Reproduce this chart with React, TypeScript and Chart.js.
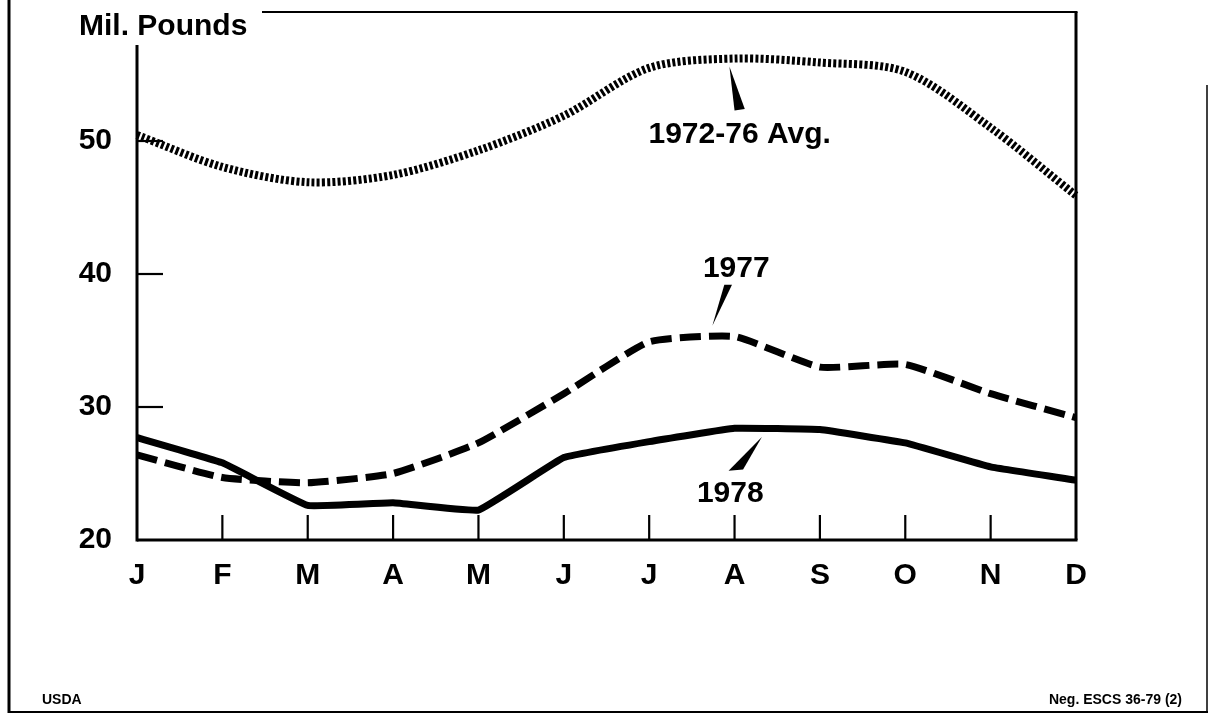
import React, { useEffect, useRef } from 'react';
import { Chart, registerables } from 'chart.js';

Chart.register(...registerables);

const months = ['J', 'F', 'M', 'A', 'M', 'J', 'J', 'A', 'S', 'O', 'N', 'D'];
const avg7276 = [50.45, 48.05, 46.9, 47.45, 49.3, 51.9, 55.5, 56.2, 55.9, 55.2, 51.0, 45.9];
const y1977 = [26.4, 24.7, 24.3, 25.0, 27.3, 31.0, 34.9, 35.3, 33.0, 33.2, 31.0, 29.2];
const y1978 = [27.7, 25.8, 22.6, 22.8, 22.25, 26.2, 27.4, 28.4, 28.3, 27.3, 25.5, 24.5];
const yTicks = [20, 30, 40, 50];
const yMin = 20;
const yMax = 59.7;

const yTitle = 'Mil. Pounds';
const footLeft = 'USDA';
const footRight = 'Neg. ESCS 36-79 (2)';

// annotation labels in data space: [index, value]
const labelAvg = { text: '1972-76 Avg.', at: [7.06, 49.85], tip: [6.94, 55.6], base: [[7.0, 52.3], [7.12, 52.4]] };
const label1977 = { text: '1977', at: [7.02, 39.8], tip: [6.74, 36.1], base: [[6.88, 39.2], [6.97, 39.2]] };
const label1978 = { text: '1978', at: [6.95, 22.85], tip: [7.32, 27.75], base: [[6.93, 25.2], [7.1, 25.3]] };
const labels = [labelAvg, label1977, label1978];

const FONT = "'Liberation Sans', Arial, Helvetica, sans-serif";

const framePlugin = {
  id: 'frame',
  afterDraw(chart: any) {
    const { ctx, chartArea: a, scales } = chart;
    const xs = scales.x;
    const ys = scales.y;
    const line = (x1: number, y1: number, x2: number, y2: number) => {
      ctx.beginPath();
      ctx.moveTo(x1, y1);
      ctx.lineTo(x2, y2);
      ctx.stroke();
    };
    ctx.save();
    ctx.strokeStyle = '#000';
    ctx.fillStyle = '#000';
    ctx.lineCap = 'butt';
    // outer frame
    ctx.lineWidth = 3;
    line(9, 0, 9, 713);
    ctx.lineWidth = 2;
    line(8, 712, 1208, 712);
    ctx.lineWidth = 1.5;
    line(1207, 85, 1207, 713);
    // plot frame
    ctx.lineWidth = 3;
    line(a.left, 45, a.left, a.bottom + 1.5);
    line(a.left, a.bottom, a.right + 1.5, a.bottom);
    line(a.right, a.top, a.right, a.bottom);
    ctx.lineWidth = 2;
    line(262, a.top, a.right + 1.5, a.top);
    // inward ticks
    ctx.lineWidth = 2.2;
    [30, 40, 50].forEach((v) => {
      const py = ys.getPixelForValue(v);
      line(a.left, py, a.left + 26, py);
    });
    for (let i = 1; i < months.length - 1; i++) {
      const px = xs.getPixelForValue(i);
      line(px, a.bottom, px, a.bottom - 25);
    }
    // y title
    ctx.font = `bold 30px ${FONT}`;
    ctx.textAlign = 'left';
    ctx.textBaseline = 'alphabetic';
    ctx.fillText(yTitle, 79, 35);
    // annotations
    labels.forEach((l) => {
      const tx = xs.getPixelForValue(l.tip[0]);
      const ty = ys.getPixelForValue(l.tip[1]);
      ctx.beginPath();
      ctx.moveTo(tx, ty);
      l.base.forEach((b) => ctx.lineTo(xs.getPixelForValue(b[0]), ys.getPixelForValue(b[1])));
      ctx.closePath();
      ctx.fill();
      ctx.font = `bold 30px ${FONT}`;
      ctx.textAlign = 'center';
      ctx.fillText(l.text, xs.getPixelForValue(l.at[0]), ys.getPixelForValue(l.at[1]));
    });
    // footers
    ctx.font = `bold 14px ${FONT}`;
    ctx.textAlign = 'left';
    ctx.textBaseline = 'middle';
    ctx.fillText(footLeft, 42, 700);
    ctx.textAlign = 'right';
    ctx.fillText(footRight, 1182, 700);
    ctx.restore();
  },
};

export default function App() {
  const ref = useRef<HTMLCanvasElement>(null);
  useEffect(() => {
    document.body.style.margin = '0';
    document.body.style.background = '#fff';
    const canvas = ref.current;
    if (!canvas) return;
    const chart = new Chart(canvas, {
      type: 'line',
      data: {
        labels: months,
        datasets: [
          {
            label: '1972-76 Avg.',
            data: avg7276,
            borderColor: '#000',
            borderWidth: 8,
            borderDash: [3, 2.2],
            borderCapStyle: 'butt',
            pointRadius: 0,
            tension: 0.3,
            fill: false,
          },
          {
            label: '1977',
            data: y1977,
            borderColor: '#000',
            borderWidth: 7,
            borderDash: [21, 8],
            borderCapStyle: 'butt',
            pointRadius: 0,
            tension: 0.15,
            fill: false,
          },
          {
            label: '1978',
            data: y1978,
            borderColor: '#000',
            borderWidth: 7,
            pointRadius: 0,
            tension: 0.08,
            fill: false,
          },
        ],
      },
      options: {
        responsive: false,
        animation: false,
        events: [],
        layout: { padding: { top: 12, right: 136, left: 0, bottom: 0 } },
        plugins: { legend: { display: false }, tooltip: { enabled: false } },
        scales: {
          x: {
            type: 'category',
            offset: false,
            grid: { display: false, drawTicks: false },
            border: { display: false },
            ticks: {
              color: '#000',
              font: { family: FONT, size: 30, weight: 'bold' },
              padding: 18,
              maxRotation: 0,
              autoSkip: false,
            },
            afterFit(s: any) {
              s.height = 176;
              s.paddingLeft = 0;
              s.paddingRight = 0;
            },
          },
          y: {
            min: yMin,
            max: yMax,
            grid: { display: false, drawTicks: false },
            border: { display: false },
            afterBuildTicks(s: any) {
              s.ticks = yTicks.map((v) => ({ value: v }));
            },
            ticks: {
              color: '#000',
              font: { family: FONT, size: 30, weight: 'bold' },
              padding: 25,
            },
            afterFit(s: any) {
              s.width = 137;
              s.paddingTop = 0;
              s.paddingBottom = 0;
            },
          },
        },
      },
      plugins: [framePlugin],
    } as any);
    return () => chart.destroy();
  }, []);
  return (
    <div style={{ width: 1212, height: 716, background: '#fff' }}>
      <canvas ref={ref} width={1212} height={716} style={{ display: 'block' }} />
    </div>
  );
}
